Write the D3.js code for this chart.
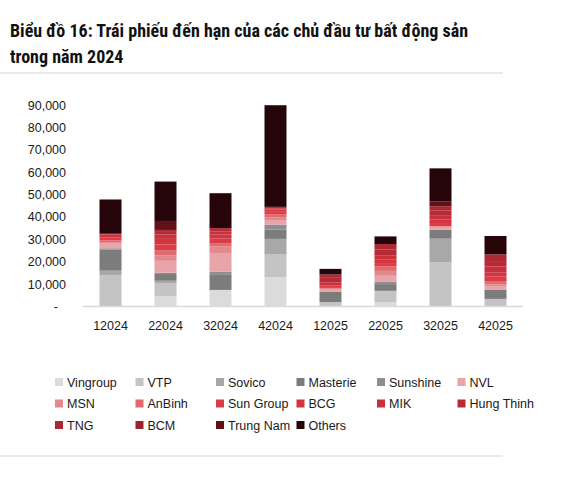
<!DOCTYPE html>
<html>
<head>
<meta charset="utf-8">
<script src="https://cdn.jsdelivr.net/npm/d3@7"></script>
<style>
  body { margin: 0; background: #fff; }
  svg { display: block; }
</style>
</head>
<body>
<svg id="chart"></svg>
<script>
// quý (nhãn trục x)
const quarters = ["12024", "22024", "32024", "42024", "12025", "22025", "32025", "42025"];

// các chủ đầu tư, thứ tự từ dưới lên
const issuers = ["Vingroup", "VTP", "Sovico", "Masterie", "Sunshine", "NVL",
                 "MSN", "AnBinh", "Sun Group", "BCG", "MIK", "Hung Thinh",
                 "TNG", "BCM", "Trung Nam", "Others"];

const colors = ["#dbdbdb", "#c4c4c4", "#a8a8a8", "#7c7c7c", "#8e8e8e", "#e8a4a8",
                "#e08a8e", "#e06a70", "#dc3c46", "#d4343f", "#c8303c", "#b82a36",
                "#ac2832", "#9c222c", "#5e1218", "#25040a"];

// giá trị (tỷ đồng) theo từng chủ đầu tư, 8 quý
const Vingroup  = [0,     4500,  7400,  13000, 0,    2000, 0,     0];
const VTP       = [14000, 6000,  0,     10200, 2000, 5000, 19700, 3400];
const Sovico    = [2000,  1000,  0,     7000,  0,    0,    10600, 0];
const Masterie  = [9500,  3000,  6700,  4200,  4500, 3000, 4000,  4000];
const Sunshine  = [500,   600,   1500,  2200,  0,    1200, 0,     0];
const NVL       = [2500,  5300,  8000,  2000,  1000, 2500, 1500,  1500];
const MSN       = [0,     2400,  3200,  1300,  800,  2200, 0,     1000];
const AnBinh    = [1000,  2400,  1500,  1200,  0,    2000, 0,     1200];
const SunGroup  = [1200,  2500,  2000,  1200,  1000, 1500, 1500,  2200];
const BCG       = [800,   2500,  1800,  1000,  0,    1500, 1500,  2000];
const MIK       = [600,   2000,  1500,  600,   1500, 2000, 2000,  2500];
const HungThinh = [400,   1500,  1000,  600,   2000, 2500, 2000,  2500];
const TNG       = [0,     500,   400,   0,     1500, 2500, 2000,  3000];
const BCM       = [0,     0,     0,     0,     0,    0,    0,     0];
const TrungNam  = [0,     4000,  0,     0,     0,    0,    2200,  0];
const Others    = [15300, 17600, 15600, 45400, 2500, 3400, 14700, 8200];

const series = [Vingroup, VTP, Sovico, Masterie, Sunshine, NVL, MSN, AnBinh,
                SunGroup, BCG, MIK, HungThinh, TNG, BCM, TrungNam, Others];

const yTicks = [0, 10000, 20000, 30000, 40000, 50000, 60000, 70000, 80000, 90000];

let width = 565;
let height = 478;

let svg = d3.select("#chart")
    .attr("width", width)
    .attr("height", height);

let font = "'Liberation Sans', Arial, sans-serif";

// tiêu đề
let title = svg.append("g")
    .style("font-family", "'Liberation Sans Narrow', 'Roboto Condensed', 'DejaVu Sans Condensed', sans-serif")
    .style("font-weight", "bold")
    .style("font-size", "18px")
    .attr("fill", "#111");
title.append("text").attr("x", 10).attr("y", 37)
    .text("Biểu đồ 16: Trái phiếu đến hạn của các chủ đầu tư bất động sản");
title.append("text").attr("x", 10).attr("y", 63)
    .text("trong năm 2024");

// đường kẻ trên / dưới
svg.append("line").attr("x1", 0).attr("x2", 503).attr("y1", 73).attr("y2", 73)
    .style("stroke", "#e2e2e2").style("stroke-width", 1.5);
svg.append("line").attr("x1", 0).attr("x2", 503).attr("y1", 456).attr("y2", 456)
    .style("stroke", "#e2e2e2").style("stroke-width", 1.5);

// dữ liệu dạng bảng cho d3.stack
let table = quarters.map((q, i) => {
    let row = {q: q};
    issuers.forEach((name, k) => row[name] = series[k][i]);
    return row;
});
let stacked = d3.stack().keys(issuers)(table);

let plotLeft = 83, plotRight = 523;
let plotTop = 105, plotBottom = 306.5;

let scaleX = d3.scaleBand()
    .domain(quarters)
    .range([plotLeft, plotRight])
    .paddingInner(0.6)
    .paddingOuter(0.3);

let scaleY = d3.scaleLinear()
    .domain([0, 90000])
    .range([plotBottom, plotTop]);

let color = d3.scaleOrdinal().domain(issuers).range(colors);

// cột chồng
svg.append("g")
    .selectAll("g")
    .data(stacked)
    .join("g")
    .attr("fill", d => color(d.key))
    .selectAll("rect")
    .data(d => d)
    .join("rect")
    .attr("x", d => scaleX(d.data.q))
    .attr("width", scaleX.bandwidth())
    .attr("y", d => scaleY(d[1]))
    .attr("height", d => scaleY(d[0]) - scaleY(d[1]));

// trục y
let axisY = d3.axisLeft(scaleY)
    .tickValues(yTicks)
    .tickSize(0)
    .tickPadding(0)
    .tickFormat(d => d === 0 ? "-" : d3.format(",")(d));

let gy = svg.append("g")
    .attr("transform", `translate(66, 0)`)
    .call(axisY);
gy.select(".domain").remove();
gy.selectAll("text")
    .style("font-family", font)
    .style("font-size", "12.5px")
    .attr("fill", "#1a1a1a");
gy.selectAll(".tick").filter(d => d === 0).select("text").attr("dx", -8);

// trục x
let axisX = d3.axisBottom(scaleX).tickSize(0).tickPadding(15);
let gx = svg.append("g")
    .attr("transform", `translate(0, ${plotBottom})`)
    .call(axisX);
gx.select(".domain")
    .attr("d", `M${plotLeft},0H${plotRight}`)
    .style("stroke", "#d9d9d9")
    .style("stroke-width", 1.5);
gx.selectAll("text")
    .style("font-family", font)
    .style("font-size", "12.5px")
    .attr("fill", "#1a1a1a");

// chú giải
let legend = svg.append("g")
    .style("font-family", font)
    .style("font-size", "12.5px");
let item = legend.selectAll("g")
    .data(issuers)
    .join("g")
    .attr("transform", (d, i) => `translate(${55 + (i % 6) * 80.5}, ${382 + Math.floor(i / 6) * 21.5})`);
item.append("rect")
    .attr("x", 0).attr("y", -4)
    .attr("width", 8).attr("height", 8)
    .attr("fill", d => color(d));
item.append("text")
    .attr("x", 12).attr("y", 4.5)
    .attr("fill", "#1a1a1a")
    .text(d => d);
</script>
</body>
</html>
